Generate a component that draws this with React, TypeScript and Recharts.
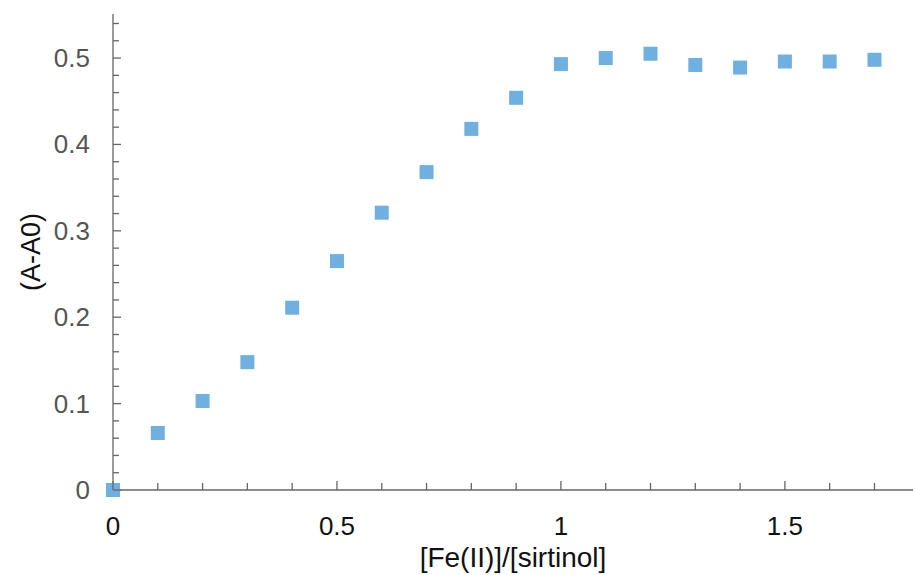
import { ScatterChart, Scatter, XAxis, YAxis, Label } from "recharts";

const ratio = [0, 0.1, 0.2, 0.3, 0.4, 0.5, 0.6, 0.7, 0.8, 0.9, 1.0, 1.1, 1.2, 1.3, 1.4, 1.5, 1.6, 1.7];
const absorbance = [0, 0.066, 0.103, 0.148, 0.211, 0.265, 0.321, 0.368, 0.418, 0.454, 0.493, 0.5, 0.505, 0.492, 0.489, 0.496, 0.496, 0.498];

const xTicks = [0, 0.1, 0.2, 0.3, 0.4, 0.5, 0.6, 0.7, 0.8, 0.9, 1, 1.1, 1.2, 1.3, 1.4, 1.5, 1.6, 1.7];
const xLabels = [0, 0.5, 1, 1.5];
const yTicks = [0, 0.02, 0.04, 0.06, 0.08, 0.1, 0.12, 0.14, 0.16, 0.18, 0.2, 0.22, 0.24, 0.26, 0.28, 0.3, 0.32, 0.34, 0.36, 0.38, 0.4, 0.42, 0.44, 0.46, 0.48, 0.5, 0.52, 0.54];
const yLabels = [0, 0.1, 0.2, 0.3, 0.4, 0.5];

const data = ratio.map((r, i) => ({ x: r, y: absorbance[i] }));

const isMajor = (v: number, majors: number[]) =>
  majors.some((m) => Math.abs(m - v) < 1e-6);

const font = "'Liberation Sans', Arial, sans-serif";
const axisColor = "#666";

function XTick(props: any) {
  const { x, y, payload } = props;
  const major = isMajor(payload.value, xLabels);
  return (
    <g>
      <line x1={x} x2={x} y1={y} y2={y - (major ? 9 : 7)} stroke={axisColor} strokeWidth={1.3} />
      {major && (
        <text x={x} y={y + 45} textAnchor="middle" fontSize={26} fill="#111" fontFamily={font}>
          {String(payload.value)}
        </text>
      )}
    </g>
  );
}

function YTick(props: any) {
  const { x, y, payload } = props;
  const major = isMajor(payload.value, yLabels);
  return (
    <g>
      <line x1={x} x2={x + (major ? 8 : 6)} y1={y} y2={y} stroke={axisColor} strokeWidth={1.3} />
      {major && (
        <text x={x - 23} y={y + 9} textAnchor="end" fontSize={26} fill="#555" fontFamily={font}>
          {String(payload.value)}
        </text>
      )}
    </g>
  );
}

function Square(props: any) {
  const { cx, cy } = props;
  return <rect x={cx - 7} y={cy - 7} width={14} height={14} fill="#70b0e0" />;
}

export default function App() {
  return (
    <div style={{ position: "absolute", left: 0, top: 0, background: "#fff" }}>
      <ScatterChart
        width={915}
        height={575}
        margin={{ top: 14, right: 2, left: 0, bottom: 0 }}
      >
        <XAxis
          type="number"
          dataKey="x"
          domain={[0, 1.786]}
          ticks={xTicks}
          interval={0}
          height={85}
          tickSize={0}
          tickMargin={0}
          tickLine={false}
          axisLine={{ stroke: axisColor, strokeWidth: 1.3 }}
          tick={<XTick />}
        >
          <Label
            value="[Fe(II)]/[sirtinol]"
            position="insideBottom"
            offset={8}
            style={{ fontSize: 28, fill: "#111", fontFamily: font }}
          />
        </XAxis>
        <YAxis
          type="number"
          dataKey="y"
          domain={[0, 0.551]}
          ticks={yTicks}
          interval={0}
          width={113}
          tickSize={0}
          tickMargin={0}
          tickLine={false}
          axisLine={{ stroke: axisColor, strokeWidth: 1.3 }}
          tick={<YTick />}
        >
          <Label
            value="(A-A0)"
            angle={-90}
            position="insideLeft"
            offset={30}
            style={{ fontSize: 27, fill: "#111", fontFamily: font, textAnchor: "middle" }}
          />
        </YAxis>
        <Scatter data={data} shape={<Square />} isAnimationActive={false} />
      </ScatterChart>
    </div>
  );
}
